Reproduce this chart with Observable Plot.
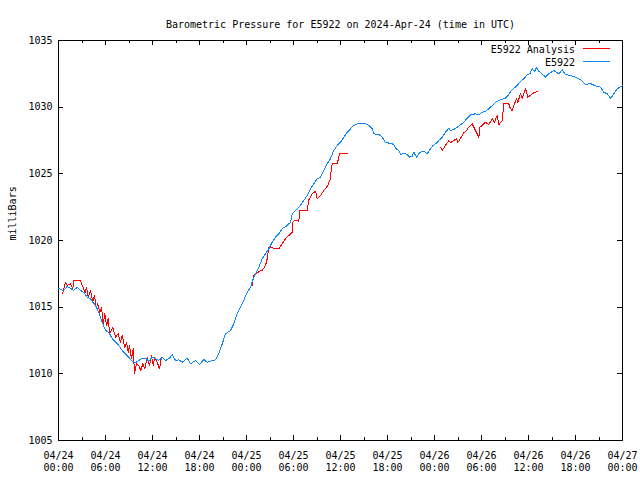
<!DOCTYPE html>
<html><head><meta charset="utf-8">
<script src="https://cdn.jsdelivr.net/npm/d3@7"></script>
<script src="https://cdn.jsdelivr.net/npm/@observablehq/plot@0.6"></script>
<style>body{margin:0;background:#fff} svg{display:block}</style>
</head><body><div id="chart"></div>
<script>
const title = "Barometric Pressure for E5922 on 2024-Apr-24 (time in UTC)";
const yLabel = "milliBars";
const seriesNames = ["E5922 Analysis", "E5922"];
const seriesColors = ["#ff0000", "#0f86fa"];
const yTicks = [1005, 1010, 1015, 1020, 1025, 1030, 1035];
const xTickHours = [0, 6, 12, 18, 24, 30, 36, 42, 48, 54, 60, 66, 72];
const xMinorHours = [3, 9, 15, 21, 27, 33, 39, 45, 51, 57, 63, 69];
const xTickLabels = ["04/24\n00:00","04/24\n06:00","04/24\n12:00","04/24\n18:00","04/25\n00:00","04/25\n06:00","04/25\n12:00","04/25\n18:00","04/26\n00:00","04/26\n06:00","04/26\n12:00","04/26\n18:00","04/27\n00:00"];

// hours since 2024-04-24 00:00 UTC
const stationHours = [0,0.64,1.11,1.53,1.95,2.39,2.81,3.23,3.66,4.08,4.38,4.72,5.14,5.58,6.00,6.42,6.86,7.28,7.70,8.13,8.55,8.97,9.41,9.83,10.25,10.69,11.11,11.53,11.96,12.38,12.80,13.24,13.66,14.08,14.52,14.94,15.36,15.79,16.43,16.85,17.49,18.00,18.55,18.98,19.62,20.04,20.46,20.90,21.32,21.96,22.38,22.81,23.45,24.09,24.51,24.93,25.57,26.00,26.43,26.85,27.28,27.70,28.12,28.56,29.20,29.62,29.83,30.47,30.89,31.31,31.75,32.17,32.59,33.03,33.45,33.87,34.30,34.72,35.14,35.58,36.00,36.42,36.86,37.28,37.70,38.34,38.97,39.61,40.05,40.25,40.89,41.32,41.74,42.38,42.80,43.02,43.44,43.66,44.08,44.51,44.85,45.15,45.36,45.70,46.12,46.63,47.07,47.40,47.83,48.26,48.55,48.98,49.40,49.83,50.04,50.46,50.90,51.32,51.74,52.17,52.60,53.23,53.66,54.09,54.51,54.93,55.37,55.79,56.21,56.64,57.06,57.48,57.70,58.12,58.56,58.98,59.40,59.83,60.17,60.47,60.77,61.02,61.32,61.53,62.17,62.59,63.23,63.87,64.30,64.72,65.36,66.00,66.64,67.28,67.91,68.55,69.19,69.61,70.05,70.51,70.89,71.32,72.00];
const stationPressure = [1016.40,1016.25,1016.55,1016.42,1016.25,1016.50,1016.25,1016.12,1015.75,1015.63,1015.37,1015.13,1014.62,1013.87,1013.25,1013.12,1012.63,1012.37,1012.13,1011.75,1011.50,1011.25,1010.93,1010.83,1011.00,1011.15,1011.17,1010.93,1011.25,1011.13,1011.00,1011.25,1011.00,1011.13,1011.43,1011.00,1011.05,1010.87,1011.17,1010.75,1011.00,1010.70,1011.07,1010.87,1011.00,1011.05,1011.50,1012.25,1013.00,1013.25,1013.75,1014.50,1015.25,1016.12,1016.50,1017.25,1018.00,1018.63,1019.00,1019.38,1019.87,1020.25,1020.50,1020.88,1021.13,1021.37,1022.00,1022.38,1022.63,1023.00,1023.38,1023.88,1024.25,1024.63,1024.75,1025.25,1025.75,1026.13,1026.75,1027.13,1027.37,1027.75,1028.12,1028.38,1028.63,1028.80,1028.80,1028.63,1028.38,1028.00,1027.95,1027.75,1027.33,1027.30,1027.20,1026.92,1026.75,1026.45,1026.55,1026.45,1026.25,1026.30,1026.62,1026.25,1026.62,1026.70,1026.50,1026.80,1027.13,1027.30,1027.50,1027.75,1028.12,1028.42,1028.25,1028.33,1028.50,1028.68,1028.87,1029.17,1029.43,1029.50,1029.43,1029.62,1029.67,1029.88,1030.12,1030.37,1030.50,1030.58,1030.67,1030.93,1031.17,1031.42,1031.62,1031.93,1032.13,1032.43,1032.50,1032.88,1032.68,1032.98,1032.68,1032.62,1032.25,1032.50,1032.75,1032.50,1032.80,1032.45,1032.38,1032.25,1032.05,1031.70,1031.78,1031.59,1031.50,1031.12,1031.00,1030.65,1031.00,1031.38,1031.62];

// null entries mark gaps in the analysis series
const analysisHours = [0.51,0.89,1.11,1.53,1.83,1.95,2.81,3.03,3.23,3.36,3.57,3.79,4.08,4.38,4.60,4.81,5.02,5.27,5.49,5.71,5.91,6.13,6.34,6.55,6.93,7.28,7.62,7.91,8.13,8.46,8.68,8.90,9.06,9.32,9.54,9.70,9.96,10.25,10.51,10.76,11.02,11.32,11.62,11.87,12.09,12.29,12.60,12.89,13.15,
  null,
  24.73,24.93,25.28,25.70,26.00,26.43,26.64,26.85,27.28,27.48,28.12,28.56,28.98,29.62,29.83,29.91,30.13,30.68,30.80,31.75,31.95,32.39,32.81,33.03,33.45,33.87,34.38,34.72,34.81,34.94,35.58,35.91,36.42,36.96,
  null,
  48.77,48.98,49.40,49.83,50.04,50.46,50.81,50.97,51.41,51.74,52.09,52.38,52.81,53.23,53.66,53.79,54.09,54.51,54.93,55.37,55.66,56.00,56.21,56.64,56.85,57.48,57.70,57.92,58.12,58.47,58.64,58.98,59.19,59.62,59.91,60.26,60.68,61.09];
const analysisPressure = [1016.00,1016.87,1016.63,1016.75,1016.42,1017.00,1017.00,1016.63,1016.38,1016.00,1016.50,1015.75,1016.25,1015.37,1015.88,1014.88,1015.25,1014.62,1015.00,1013.75,1014.50,1013.63,1014.13,1013.00,1013.50,1012.75,1013.00,1012.37,1012.88,1012.00,1012.37,1011.62,1012.13,1011.13,1011.92,1010.00,1010.75,1010.63,1010.25,1010.75,1010.38,1011.25,1010.63,1011.37,1010.63,1011.25,1010.87,1010.38,1011.25,
  null,
  1016.63,1017.37,1017.55,1017.70,1017.75,1018.13,1018.63,1019.50,1019.50,1019.38,1019.38,1019.75,1020.13,1020.50,1020.62,1021.37,1021.50,1021.45,1022.25,1022.25,1023.05,1023.50,1023.70,1023.13,1023.38,1023.75,1024.13,1024.63,1025.25,1025.75,1025.75,1026.55,1026.55,1026.50,
  null,
  1027.00,1026.75,1027.13,1027.50,1027.33,1027.50,1027.63,1027.33,1027.75,1028.08,1028.25,1028.50,1028.75,1028.25,1027.75,1028.50,1028.63,1028.87,1028.68,1029.13,1028.87,1029.38,1028.68,1029.00,1030.25,1030.25,1029.88,1029.75,1030.13,1030.63,1030.37,1031.00,1030.63,1031.38,1030.75,1030.88,1031.08,1031.17];

const station = stationHours.map((h, i) => ({h, p: stationPressure[i]}));
const analysis = analysisHours.map((h, i) => ({h, p: analysisPressure[i]}));

const W = 640, H = 480, mT = 40, mB = 40, mL = 58, mR = 18;
const fw = W - mL - mR, fh = H - mT - mB;
const major = 5, minor = 3;

function legend(index, scales, values, dims) {
  const g = d3.create("svg:g").attr("font-family", "DejaVu Sans Mono").attr("font-size", 10);
  const xr = dims.width - dims.marginRight;
  seriesNames.forEach((name, i) => {
    const y = dims.marginTop + 10 + i * 13;
    g.append("text").attr("x", xr - 47).attr("y", y).attr("dy", "0.32em")
      .attr("text-anchor", "end").attr("fill", "black").text(name);
    g.append("line").attr("x1", xr - 39).attr("x2", xr - 12).attr("y1", y - 1.5).attr("y2", y - 1.5)
      .attr("stroke", seriesColors[i]).attr("stroke-width", 1).attr("shape-rendering", "crispEdges");
  });
  return g.node();
}

const chart = Plot.plot({
  width: W, height: H,
  marginTop: mT, marginBottom: mB, marginLeft: mL, marginRight: mR,
  style: {fontFamily: "DejaVu Sans Mono", fontSize: "10px", color: "black", background: "white"},
  x: {domain: [0, 72], axis: null},
  y: {domain: [1005, 1035], axis: null},
  marks: [
    Plot.frame({stroke: "black", shapeRendering: "crispEdges"}),
    // inward ticks
    Plot.ruleX(xTickHours.slice(1, -1), {x: d => d, insetTop: fh - major, stroke: "black", shapeRendering: "crispEdges"}),
    Plot.ruleX(xTickHours.slice(1, -1), {x: d => d, insetBottom: fh - major, stroke: "black", shapeRendering: "crispEdges"}),
    Plot.ruleX(xMinorHours, {x: d => d, insetTop: fh - minor, stroke: "black", shapeRendering: "crispEdges"}),
    Plot.ruleX(xMinorHours, {x: d => d, insetBottom: fh - minor, stroke: "black", shapeRendering: "crispEdges"}),
    Plot.ruleY(yTicks.slice(1, -1), {y: d => d, insetRight: fw - major, stroke: "black", shapeRendering: "crispEdges"}),
    Plot.ruleY(yTicks.slice(1, -1), {y: d => d, insetLeft: fw - major, stroke: "black", shapeRendering: "crispEdges"}),
    // tick labels
    Plot.axisX(xTickHours, {anchor: "bottom", tickSize: 0, tickPadding: 10, lineHeight: 1.2,
      tickFormat: d => xTickLabels[xTickHours.indexOf(d)], label: null}),
    Plot.axisY(yTicks, {anchor: "left", tickSize: 0, tickPadding: 6, tickFormat: d => String(d), label: null}),
    Plot.text([yLabel], {frameAnchor: "left", dx: -46, rotate: -90, text: d => d}),
    Plot.text([title], {frameAnchor: "top", dy: -20, text: d => d}),
    // series
    Plot.line(analysis, {x: "h", y: "p", stroke: seriesColors[0], strokeWidth: 1, shapeRendering: "crispEdges"}),
    Plot.line(station, {x: "h", y: "p", stroke: seriesColors[1], strokeWidth: 1, shapeRendering: "crispEdges"}),
    legend
  ]
});
document.getElementById("chart").append(chart);
</script>
</body></html>
